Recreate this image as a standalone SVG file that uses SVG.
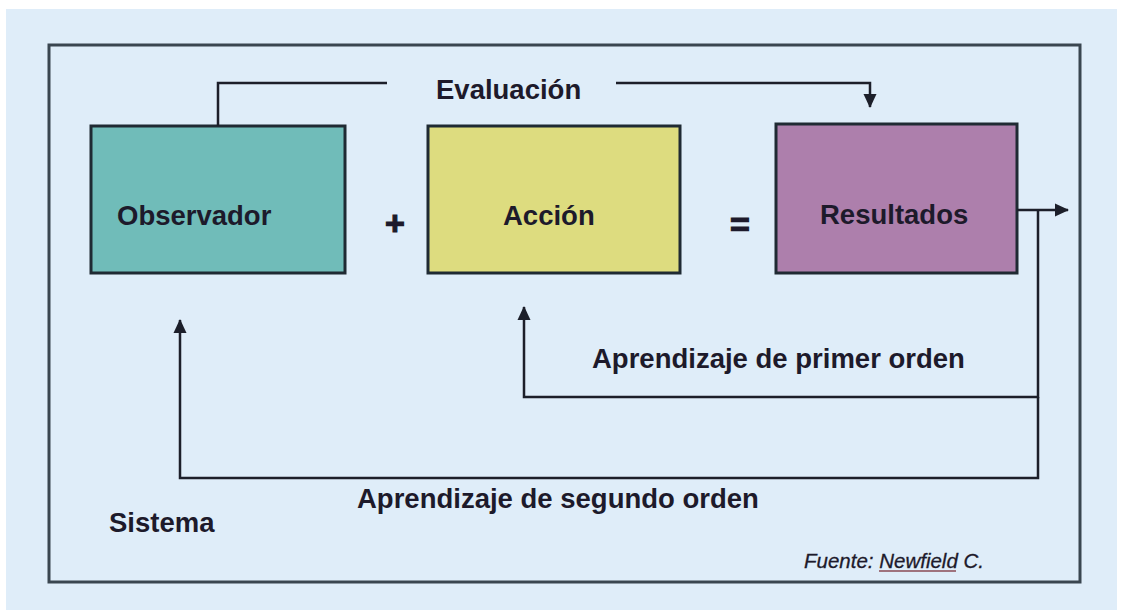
<svg xmlns="http://www.w3.org/2000/svg" width="1122" height="610" viewBox="0 0 1122 610">
  <defs>
    <marker id="arrow" viewBox="0 0 14 14" refX="13" refY="7" markerWidth="14" markerHeight="14" markerUnits="userSpaceOnUse" orient="auto">
      <path d="M0,0.5 L14,7 L0,13.5 z" fill="#1c1f2a"/>
    </marker>
    <style>
      .lbl { font-family: "Liberation Sans", Arial, sans-serif; font-weight: bold; font-size: 27.5px; fill: #1d1a2b; }
      .op { font-family: "Liberation Sans", Arial, sans-serif; font-weight: bold; font-size: 34px; fill: #1d1a2b; stroke: #1d1a2b; stroke-width: 1.2px; }
      .box { stroke: #1f2a33; stroke-width: 3; }
      .conn { fill: none; stroke: #1c1f2a; stroke-width: 2.5; }
    </style>
  </defs>
  <rect x="0" y="0" width="1122" height="610" fill="#ffffff"/>
  <rect x="6" y="9" width="1111" height="601" fill="#dfedf9"/>
  <g id="sistema">
    <rect x="49" y="45" width="1031" height="537" fill="none" stroke="#3a4650" stroke-width="3"/>
    <text class="lbl" x="109" y="532">Sistema</text>
  </g>
  <g id="observador">
    <rect class="box" x="91" y="126" width="254" height="147" fill="#70bcb9"/>
    <text class="lbl" x="117" y="225">Observador</text>
  </g>
  <g id="plus">
    <text class="op" x="395" y="235" text-anchor="middle">+</text>
  </g>
  <g id="accion">
    <rect class="box" x="428" y="126" width="252" height="147" fill="#dddc7f"/>
    <text class="lbl" x="503" y="225">Acción</text>
  </g>
  <g id="equals">
    <text class="op" x="740" y="236" text-anchor="middle">=</text>
  </g>
  <g id="resultados">
    <rect class="box" x="776" y="124" width="241" height="149" fill="#ad7fac"/>
    <text class="lbl" x="820" y="224">Resultados</text>
  </g>
  <g id="connectors">
    <path class="conn" d="M218,126 V83 H387"/>
    <path class="conn" d="M616,83 H870 V107" marker-end="url(#arrow)"/>
    <path class="conn" d="M1017,210 H1068" marker-end="url(#arrow)"/>
    <path class="conn" d="M1038,210 V397 H524 V307" marker-end="url(#arrow)"/>
    <path class="conn" d="M1038,397 V478 H180 V320" marker-end="url(#arrow)"/>
  </g>
  <g id="labels">
    <text class="lbl" x="436" y="99">Evaluación</text>
    <text class="lbl" x="592" y="368">Aprendizaje de primer orden</text>
    <text class="lbl" x="357" y="508">Aprendizaje de segundo orden</text>
  </g>
  <g id="fuente">
    <text x="804" y="568" font-family="'Liberation Sans', Arial, sans-serif" font-style="italic" font-size="20.5" fill="#1d1a2b" stroke="#1d1a2b" stroke-width="0.3">Fuente: Newfield C.</text>
    <line x1="879" y1="571" x2="956" y2="571" stroke="#8a4a55" stroke-width="1.5"/>
  </g>
</svg>
